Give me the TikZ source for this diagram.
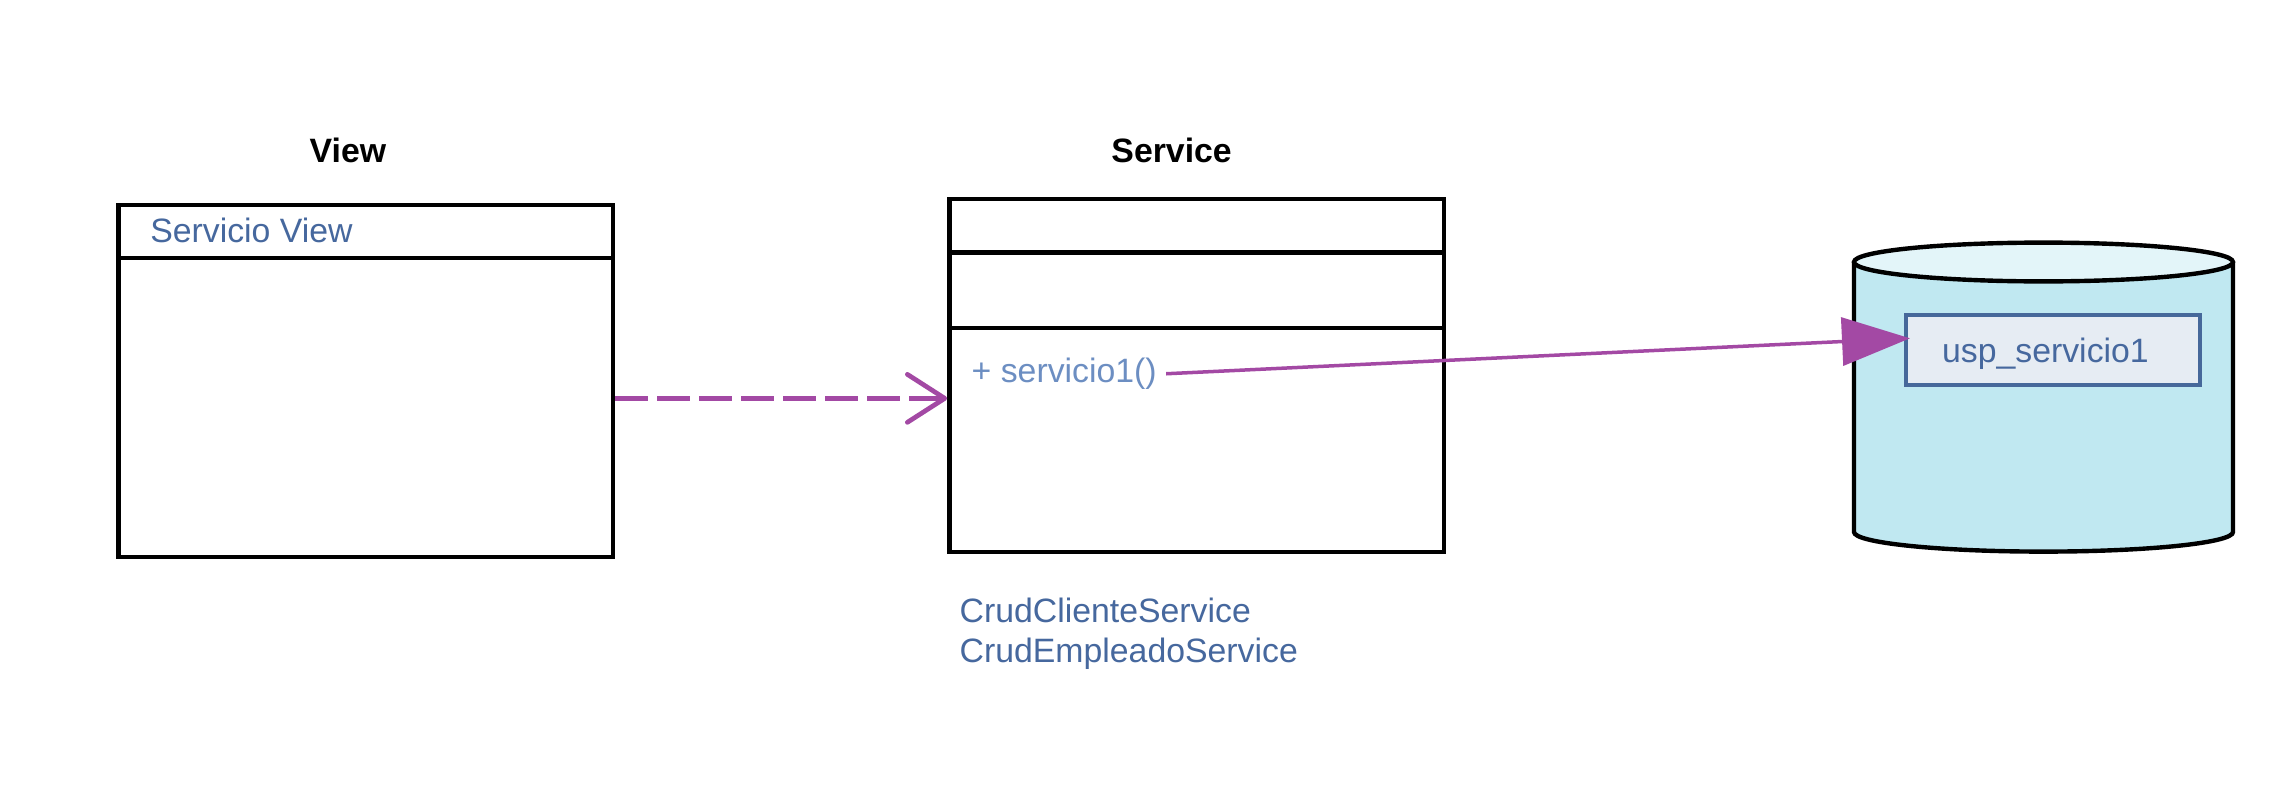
\documentclass[tikz,border=0pt]{standalone}
\usepackage{fontspec}
\setmainfont{Liberation Sans}
\usetikzlibrary{arrows.meta}
\definecolor{umlpurple}{HTML}{A349A4}
\definecolor{txtblue}{HTML}{46689E}
\definecolor{lightblue}{HTML}{6C8EC2}
\definecolor{cylbody}{HTML}{C0E8F1}
\definecolor{cyltop}{HTML}{E3F5F9}
\definecolor{uspfill}{HTML}{E6ECF3}
\definecolor{uspline}{HTML}{46689A}
\begin{document}
\begin{tikzpicture}[x=0.5pt,y=-0.5pt,
  every node/.style={font=\fontsize{16.9}{20}\selectfont, inner sep=0pt},
  umlbox/.style={draw=black, line width=2.2pt, rectangle, minimum width=247.25pt},
  title/.style={font=\fontsize{16.9}{20}\selectfont\bfseries, anchor=base},
  bluetxt/.style={text=txtblue, anchor=base west},
  methtxt/.style={text=lightblue, anchor=base west},
  uspbox/.style={draw=uspline, fill=uspfill, line width=2pt, rectangle, minimum width=146.85pt, minimum height=35pt},
  dep/.style={draw=umlpurple, line width=2.35pt, dash pattern=on 16.5pt off 4.5pt,
    -{Straight Barb[length=18.7pt,width=24pt,line cap=round,line join=round]}},
  call/.style={draw=umlpurple, line width=1.75pt, -{Triangle[length=34pt,width=24pt]}},
  cylline/.style={draw=black, line width=2.2pt}
]
\fill[white] (0,0) rectangle (2276,803);
\useasboundingbox (0,0) rectangle (2276,803);

% View class
\node[title] (viewtitle) at (347.9,162.7) {View};
\node[umlbox, minimum height=26.65pt] (viewA) at (365.85,231.35) {};
\node[umlbox, minimum height=149.35pt] (viewB) at (365.85,407.35) {};
\node[bluetxt] (viewname) at (149.9,242.7) {Servicio View};

% Service class
\node[title] (svctitle) at (1171.6,162.9) {Service};
\node[umlbox, minimum height=26.8pt] (svcA) at (1196.55,225.7) {};
\node[umlbox, minimum height=37.85pt] (svcB) at (1196.55,290.35) {};
\node[umlbox, minimum height=111.8pt] (svcC) at (1196.55,440) {};
\node[methtxt] (meth) at (971.3,382.5) {+ servicio1()};
\node[bluetxt, align=left] (impls) at (959.3,662.9) {CrudClienteService\\CrudEmpleadoService};

% Database cylinder
\fill[cylbody] (1854,262) -- (1854,532)
  arc[start angle=180,end angle=360,x radius=94.75pt,y radius=9.8pt]
  -- (2233,262) -- cycle;
\draw[cylline] (1854,262) -- (1854,532)
  arc[start angle=180,end angle=360,x radius=94.75pt,y radius=9.8pt]
  -- (2233,262);
\draw[cylline, fill=cyltop] (2043.5,262) ellipse [x radius=94.75pt, y radius=9.7pt];
\node[uspbox] (usp) at (2052.85,350.3) {};
\node[bluetxt] (usplabel) at (1941.7,362.7) {usp\_servicio1};

% Connectors
\draw[dep] ([yshift=4.5pt]viewB.east) -- ([yshift=4.5pt]viewB.east -| svcC.west);
\draw[call] ([xshift=4.5pt]meth.east) -- ([xshift=3pt,yshift=6pt]usp.west);
\end{tikzpicture}
\end{document}
